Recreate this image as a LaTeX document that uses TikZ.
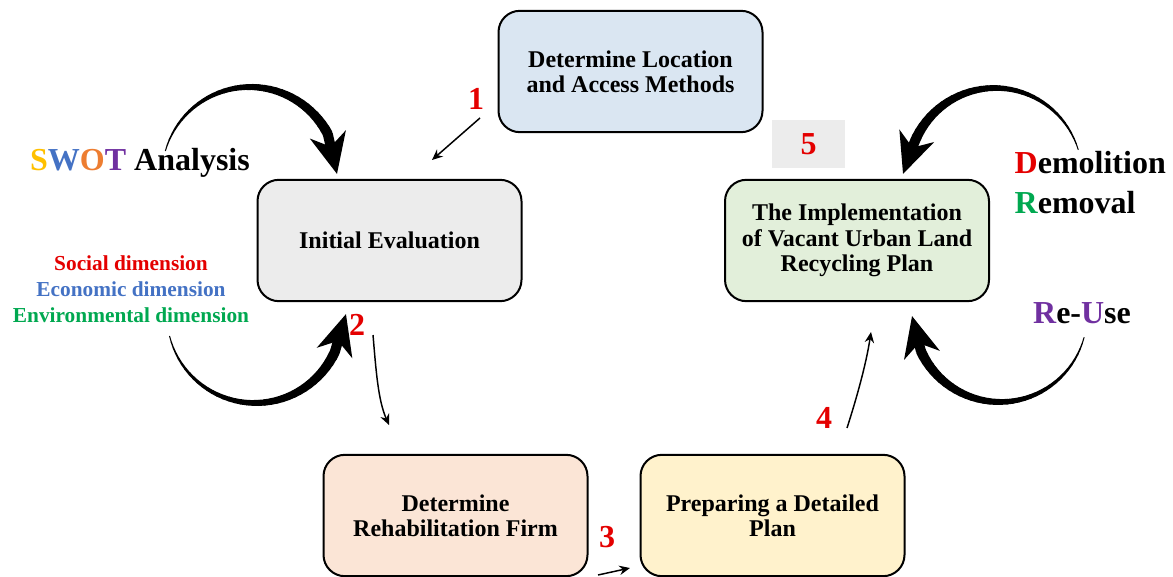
\documentclass[tikz,border=0pt]{standalone}
\usepackage{fontspec}
\setmainfont{Liberation Serif}
\usetikzlibrary{arrows.meta}
\definecolor{cred}{RGB}{228,0,0}
\definecolor{cblue}{RGB}{68,114,196}
\definecolor{cgreen}{RGB}{0,168,80}
\definecolor{cpurple}{RGB}{112,48,160}
\definecolor{corange}{RGB}{237,125,49}
\definecolor{cyellow}{RGB}{255,192,0}
\definecolor{fblue}{RGB}{218,230,242}
\definecolor{fgray}{RGB}{236,236,236}
\definecolor{fgreen}{RGB}{226,239,218}
\definecolor{fpeach}{RGB}{251,229,214}
\definecolor{fyellow}{RGB}{255,242,204}
\newcommand\bigarc[7]{%
  \foreach \i in {0,...,35}{%
    \pgfmathsetmacro\ta{#4+(#5-#4)*\i/36}%
    \pgfmathsetmacro\tb{#4+(#5-#4)*(\i+1)/36}%
    \pgfmathsetmacro\wd{0.6+6.9*(\i+1)/36}%
    \draw[line width=\wd pt, line cap=round] ({#1+#3*cos(\ta)},{#2+#3*sin(\ta)}) -- ({#1+#3*cos(\tb)},{#2+#3*sin(\tb)});
  }%
  \draw[line width=7.5pt, -{Stealth[length=30pt,width=27pt,inset=9pt]}] ({#1+#3*cos(#5)},{#2+#3*sin(#5)}) -- (#6,#7);
}
\begin{document}
\begin{tikzpicture}[x=0.75pt,y=-0.75pt,
  box/.style={draw=black, line width=1.5pt, rounded corners=16pt,
    minimum width=198pt, minimum height=91pt, align=center,
    font=\fontsize{18}{19}\selectfont\bfseries},
  num/.style={text=cred, font=\fontsize{24}{26}\selectfont\bfseries},
  big/.style={font=\fontsize{24}{26}\selectfont\bfseries},
  dim/.style={font=\fontsize{16}{18}\selectfont\bfseries},
  thinarrow/.style={line width=1.1pt, -{Stealth[length=8pt,width=7pt]}}]
\useasboundingbox (0,0) rectangle (1173,577);
% boxes
\node[box, fill=fblue] (loc) at (630.5,71.5) {Determine Location\\and Access Methods};
\node[box, fill=fgray] (init) at (389.5,240.5) {Initial Evaluation};
\node[box, fill=fgreen] (impl) at (857,240.5) {The Implementation\\of Vacant Urban Land\\Recycling Plan};
\node[box, fill=fpeach] (rehab) at (455.5,515.5) {Determine\\Rehabilitation Firm};
\node[box, fill=fyellow] (prep) at (772.5,515.5) {Preparing a Detailed\\Plan};
% step numbers
\node[num] (n1) at (476,99) {1};
\node[num] (n2) at (357,325) {2};
\node[num] (n3) at (607,537) {3};
\node[num] (n4) at (824,418) {4};
\node[num, fill=fgray, minimum width=55pt, minimum height=36pt] (n5) at (808.5,144) {5};
% thin arrows
\coordinate (a1s) at (480,118); \coordinate (a1e) at (432,160);
\draw[thinarrow] (a1s) -- (a1e);
\coordinate (a2s) at (373,335); \coordinate (a2e) at (389,425);
\draw[thinarrow] (a2s) .. controls (376,370) and (378,400) .. (a2e);
\coordinate (a3s) at (598,575); \coordinate (a3e) at (630,568);
\draw[thinarrow] (a3s) -- (a3e);
\coordinate (a4s) at (847,428); \coordinate (a4e) at (871,332);
\draw[thinarrow] (a4s) .. controls (856,400) and (866,365) .. (a4e);
% big curved arrows
\bigarc{250}{175}{88}{-164}{-28}{337}{174}
\bigarc{255}{315}{88}{166}{25}{346}{314}
\bigarc{995}{175}{87}{-17}{-157.5}{903}{174}
\bigarc{1000}{315}{87}{15}{155.4}{912}{316}
% side texts
\node[big] (swot) at (140,163) {\textcolor{cyellow}{S}\textcolor{cblue}{W}\textcolor{corange}{O}\textcolor{cpurple}{T} Analysis};
\node[dim, text=cred] (soc) at (131,263) {Social dimension};
\node[dim, text=cblue] (eco) at (131,289) {Economic dimension};
\node[dim, text=cgreen] (env) at (131,315) {Environmental dimension};
\node[big, anchor=west] (dem) at (1010,163) {\textcolor{cred}{D}emolition};
\node[big, anchor=west] (rem) at (1010,203) {\textcolor{cgreen}{R}emoval};
\node[big] (reuse) at (1082,313) {\textcolor{cpurple}{R}e-\textcolor{cpurple}{U}se};
\end{tikzpicture}
\end{document}
